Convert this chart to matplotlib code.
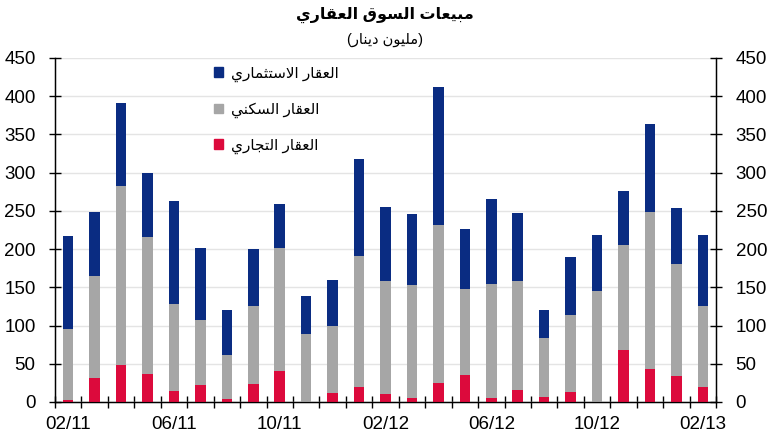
import numpy as np
import matplotlib
matplotlib.use('Agg')
import matplotlib.pyplot as plt
from matplotlib.patches import Patch

plt.rcParams['font.family'] = ['Liberation Sans', 'DejaVu Sans']

# ---- donnees (millions de dinars) ----
mois = ['02/11', '03/11', '04/11', '05/11', '06/11', '07/11', '08/11', '09/11',
        '10/11', '11/11', '12/11', '01/12', '02/12', '03/12', '04/12', '05/12',
        '06/12', '07/12', '08/12', '09/12', '10/12', '11/12', '12/12', '01/13', '02/13']
tick_mois = ['02/11', '06/11', '10/11', '02/12', '06/12', '10/12', '02/13']

commercial = [3, 31, 49, 36, 14, 22, 4, 23, 41, 0, 12, 20, 10,
              5, 25, 35, 5, 16, 6, 13, 0, 68, 43, 34, 20]
residentiel = [92, 134, 233, 180, 114, 85, 57, 103, 161, 89, 88, 171, 148,
               148, 207, 113, 149, 142, 78, 101, 145, 137, 205, 146, 105]
investissement = [122, 84, 109, 84, 135, 95, 59, 74, 57, 49, 60, 127, 97,
                  93, 180, 78, 112, 89, 36, 76, 74, 71, 115, 74, 93]

titre = 'مبيعات السوق العقاري'
sous_titre = 'مليون دينار'
lbl_inv = 'العقار الاستثماري'
lbl_res = 'العقار السكني'
lbl_com = 'العقار التجاري'

c_inv = '#0a2c82'
c_res = '#a6a6a6'
c_com = '#dc0a3c'

# ---- mise en forme de l'arabe (formes contextuelles + ordre visuel) ----
FORMES = {
    'ا': ('\uFE8D', '\uFE8E', None, None),
    'ب': ('\uFE8F', '\uFE90', '\uFE91', '\uFE92'),
    'ت': ('\uFE95', '\uFE96', '\uFE97', '\uFE98'),
    'ث': ('\uFE99', '\uFE9A', '\uFE9B', '\uFE9C'),
    'ج': ('\uFE9D', '\uFE9E', '\uFE9F', '\uFEA0'),
    'د': ('\uFEA9', '\uFEAA', None, None),
    'ر': ('\uFEAD', '\uFEAE', None, None),
    'س': ('\uFEB1', '\uFEB2', '\uFEB3', '\uFEB4'),
    'ع': ('\uFEC9', '\uFECA', '\uFECB', '\uFECC'),
    'ق': ('\uFED5', '\uFED6', '\uFED7', '\uFED8'),
    'ك': ('\uFED9', '\uFEDA', '\uFEDB', '\uFEDC'),
    'ل': ('\uFEDD', '\uFEDE', '\uFEDF', '\uFEE0'),
    'م': ('\uFEE1', '\uFEE2', '\uFEE3', '\uFEE4'),
    'ن': ('\uFEE5', '\uFEE6', '\uFEE7', '\uFEE8'),
    'و': ('\uFEED', '\uFEEE', None, None),
    'ي': ('\uFEF1', '\uFEF2', '\uFEF3', '\uFEF4'),
}


def arabe(txt):
    # ligature lam-alef
    lettres = []
    i = 0
    while i < len(txt):
        if txt[i] == 'ل' and i + 1 < len(txt) and txt[i + 1] == 'ا':
            lettres.append('LA')
            i += 2
        else:
            lettres.append(txt[i])
            i += 1

    def lie_suivant(c):
        return c in FORMES and FORMES[c][2] is not None

    sortie = []
    for k, c in enumerate(lettres):
        prec = lettres[k - 1] if k > 0 else None
        suiv = lettres[k + 1] if k + 1 < len(lettres) else None
        j_prec = prec is not None and lie_suivant(prec)
        if c == 'LA':
            sortie.append('\uFEFC' if j_prec else '\uFEFB')
            continue
        if c not in FORMES:
            sortie.append(c)
            continue
        j_suiv = lie_suivant(c) and suiv is not None and (suiv in FORMES or suiv == 'LA')
        iso, fin, ini, med = FORMES[c]
        if j_prec and j_suiv:
            sortie.append(med)
        elif j_prec:
            sortie.append(fin)
        elif j_suiv:
            sortie.append(ini)
        else:
            sortie.append(iso)
    return ''.join(reversed(sortie))


# ---- graphique ----
x = np.arange(len(mois))
fig = plt.figure(figsize=(7.7, 4.4), dpi=100)
ax = fig.add_axes([0.0714, 0.0864, 0.8586, 0.7818])

larg = 0.4
bas_inv = np.array(commercial) + np.array(residentiel)
ax.bar(x, commercial, larg, color=c_com, zorder=3)
ax.bar(x, residentiel, larg, bottom=commercial, color=c_res, zorder=3)
ax.bar(x, investissement, larg, bottom=bas_inv, color=c_inv, zorder=3)

ax.set_xlim(-0.5, len(mois) - 0.5)
ax.set_ylim(0, 450)
ax.set_yticks(np.arange(0, 451, 50))
ax.yaxis.grid(True, color='#e4e4e4', linewidth=1, zorder=0)
ax.set_axisbelow(True)

pos_ticks = [mois.index(m) for m in tick_mois]
ax.set_xticks(pos_ticks)
ax.set_xticklabels(tick_mois)
ax.set_xticks(np.arange(-0.5, len(mois), 1), minor=True)
ax.tick_params(axis='x', which='both', length=0, labelsize=13.5, pad=10)
ax.tick_params(axis='x', which='minor', direction='inout', length=8, width=1)
ax.tick_params(axis='y', direction='inout', length=8, width=1, labelsize=13.5, pad=10)
ax.spines['top'].set_visible(False)
for s in ['left', 'right', 'bottom']:
    ax.spines[s].set_color('black')
    ax.spines[s].set_linewidth(1)

ax2 = ax.twinx()
ax2.set_ylim(0, 450)
ax2.set_yticks(np.arange(0, 451, 50))
ax2.tick_params(axis='y', direction='inout', length=8, width=1, labelsize=13.5, pad=10)
ax2.spines['top'].set_visible(False)

poignees = [Patch(color=c_inv), Patch(color=c_res), Patch(color=c_com)]
etiquettes = [arabe(lbl_inv), arabe(lbl_res), arabe(lbl_com)]
leg = ax.legend(poignees, etiquettes, loc='upper left', bbox_to_anchor=(0.22, 1.015),
                frameon=False, fontsize=11, handlelength=0.6, handleheight=0.6,
                handletextpad=0.5, labelspacing=1.35)

fig.text(0.5, 0.965, arabe(titre), ha='center', va='center', fontsize=11.5,
         fontweight='bold')
fig.text(0.5, 0.91, '(' + arabe(sous_titre) + ')', ha='center', va='center',
         fontsize=10.5)

fig.savefig('out.png', dpi=100)
